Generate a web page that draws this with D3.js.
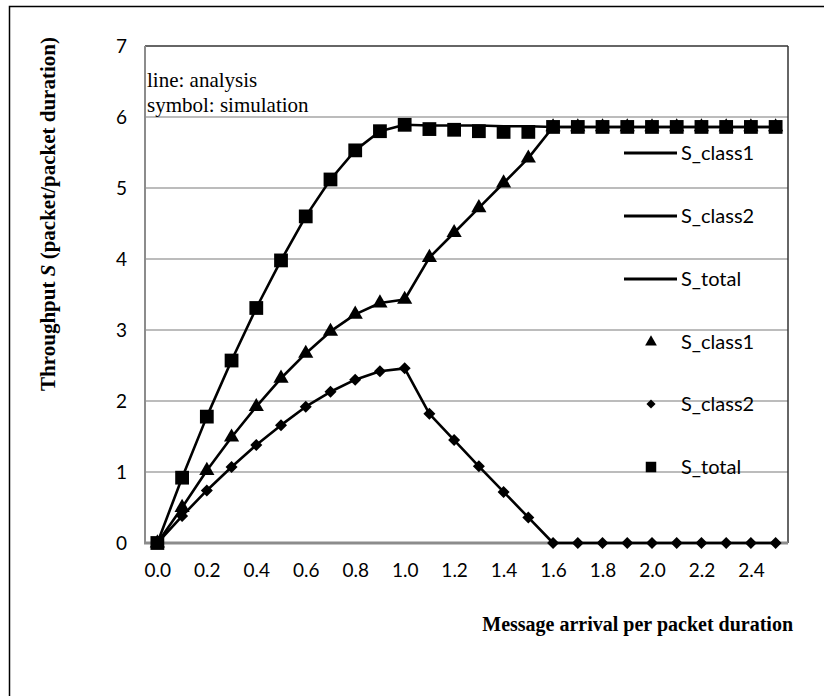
<!DOCTYPE html>
<html>
<head>
<meta charset="utf-8">
<script src="https://cdn.jsdelivr.net/npm/d3@7"></script>
<style>
body { margin: 0; background: #fff; }
</style>
</head>
<body>
<svg id="chart" width="824" height="696"></svg>
<script>
// chart data
var xCats = ["0.0","0.1","0.2","0.3","0.4","0.5","0.6","0.7","0.8","0.9","1.0","1.1","1.2","1.3","1.4","1.5","1.6","1.7","1.8","1.9","2.0","2.1","2.2","2.3","2.4","2.5"];
var xTickLabels = ["0.0","0.2","0.4","0.6","0.8","1.0","1.2","1.4","1.6","1.8","2.0","2.2","2.4"];
var yTicks = [0, 1, 2, 3, 4, 5, 6, 7];

// analysis (lines)
var anaClass1 = [0, 0.50, 1.02, 1.49, 1.92, 2.32, 2.67, 2.98, 3.22, 3.38, 3.43, 4.02, 4.37, 4.72, 5.07, 5.42, 5.86, 5.86, 5.86, 5.86, 5.86, 5.86, 5.86, 5.86, 5.86, 5.86];
var anaClass2 = [0, 0.38, 0.74, 1.07, 1.38, 1.66, 1.92, 2.13, 2.30, 2.42, 2.46, 1.82, 1.45, 1.08, 0.72, 0.36, 0, 0, 0, 0, 0, 0, 0, 0, 0, 0];
var anaTotal  = [0, 0.92, 1.78, 2.57, 3.31, 3.98, 4.60, 5.12, 5.53, 5.80, 5.89, 5.88, 5.88, 5.88, 5.87, 5.87, 5.86, 5.86, 5.86, 5.86, 5.86, 5.86, 5.86, 5.86, 5.86, 5.86];

// simulation (symbols)
var simClass1 = [0, 0.50, 1.02, 1.49, 1.92, 2.32, 2.67, 2.98, 3.22, 3.38, 3.43, 4.02, 4.37, 4.72, 5.07, 5.42, 5.86, 5.86, 5.86, 5.86, 5.86, 5.86, 5.86, 5.86, 5.86, 5.86];
var simClass2 = [0, 0.38, 0.74, 1.07, 1.38, 1.66, 1.92, 2.13, 2.30, 2.42, 2.46, 1.82, 1.45, 1.08, 0.72, 0.36, 0, 0, 0, 0, 0, 0, 0, 0, 0, 0];
var simTotal  = [0, 0.92, 1.78, 2.57, 3.31, 3.98, 4.60, 5.12, 5.53, 5.80, 5.89, 5.83, 5.82, 5.80, 5.79, 5.79, 5.86, 5.86, 5.86, 5.86, 5.86, 5.86, 5.86, 5.86, 5.86, 5.86];

var legendNames = ["S_class1", "S_class2", "S_total", "S_class1", "S_class2", "S_total"];

var svg = d3.select("#chart");
var plotLeft = 145, plotRight = 788, plotTop = 46, plotBottom = 543;
var tickFont = "Lato, 'Open Sans', sans-serif";
var serif = "'Liberation Serif', 'Times New Roman', serif";

// outer frame (runs off the picture)
svg.append("rect")
    .attr("x", 9.5).attr("y", 6.5)
    .attr("width", 900).attr("height", 900)
    .attr("fill", "none").attr("stroke", "#000").attr("stroke-width", 1.5);

var x = d3.scalePoint().domain(xCats).range([plotLeft, plotRight]).padding(0.5);
var y = d3.scaleLinear().domain([0, 7]).range([plotBottom, plotTop]);

// grid lines
svg.append("g").selectAll("line")
    .data(yTicks.filter(function (d) { return d > 0 && d < 7; }))
    .enter().append("line")
    .attr("x1", plotLeft).attr("x2", plotRight)
    .attr("y1", function (d) { return y(d); })
    .attr("y2", function (d) { return y(d); })
    .attr("stroke", "#a6a6a6").attr("stroke-width", 1.5);

// plot frame
svg.append("line").attr("x1", plotLeft).attr("x2", plotRight).attr("y1", plotTop).attr("y2", plotTop)
    .attr("stroke", "#333").attr("stroke-width", 1.5);
svg.append("line").attr("x1", plotRight).attr("x2", plotRight).attr("y1", plotTop).attr("y2", plotBottom)
    .attr("stroke", "#333").attr("stroke-width", 1.5);
svg.append("line").attr("x1", plotLeft).attr("x2", plotLeft).attr("y1", plotTop).attr("y2", plotBottom)
    .attr("stroke", "#8c8c8c").attr("stroke-width", 2);
svg.append("line").attr("x1", plotLeft - 1).attr("x2", plotRight).attr("y1", plotBottom).attr("y2", plotBottom)
    .attr("stroke", "#8c8c8c").attr("stroke-width", 3);

// y axis
var yAxis = d3.axisLeft(y).tickValues(yTicks).tickSize(0).tickPadding(18).tickFormat(d3.format("d"));
var gy = svg.append("g").attr("transform", "translate(" + plotLeft + ",0)").call(yAxis);
gy.select(".domain").remove();
gy.selectAll("text").attr("font-family", tickFont).attr("font-size", 19).attr("fill", "#000");

// x axis
var xAxis = d3.axisBottom(x).tickValues(xTickLabels).tickSize(0).tickPadding(21);
var gx = svg.append("g").attr("transform", "translate(0," + plotBottom + ")").call(xAxis);
gx.select(".domain").remove();
gx.selectAll("text").attr("font-family", tickFont).attr("font-size", 19).attr("fill", "#000");

// analysis lines
var line = d3.line()
    .x(function (d, i) { return x(xCats[i]); })
    .y(function (d) { return y(d); });

[anaClass1, anaClass2, anaTotal].forEach(function (s) {
    svg.append("path").datum(s)
        .attr("d", line)
        .attr("fill", "none").attr("stroke", "#000").attr("stroke-width", 2.6)
        .attr("stroke-linejoin", "round");
});

// simulation symbols (diamond = square turned 45deg)
var symTri = d3.symbol().type(d3.symbolTriangle).size(100);
var symDia = d3.symbol().type(d3.symbolSquare).size(72);
var symSq  = d3.symbol().type(d3.symbolSquare).size(190);

function drawSymbols(s, gen, rot) {
    svg.append("g").selectAll("path")
        .data(s).enter().append("path")
        .attr("d", gen)
        .attr("transform", function (d, i) {
            return "translate(" + x(xCats[i]) + "," + y(d) + ") rotate(" + rot + ")";
        })
        .attr("fill", "#000");
}
drawSymbols(simClass1, symTri, 0);
drawSymbols(simClass2, symDia, 45);
drawSymbols(simTotal, symSq, 0);

// legend
var legY = [153, 216, 279, 342, 404, 467];
var legSyms = [
    [d3.symbol().type(d3.symbolTriangle).size(60), 0],
    [d3.symbol().type(d3.symbolSquare).size(42), 45],
    [d3.symbol().type(d3.symbolSquare).size(110), 0]
];
var leg = svg.append("g");
legendNames.forEach(function (name, i) {
    if (i < 3) {
        leg.append("line").attr("x1", 624).attr("x2", 677)
            .attr("y1", legY[i]).attr("y2", legY[i])
            .attr("stroke", "#000").attr("stroke-width", 3);
    } else {
        var s = legSyms[i - 3];
        leg.append("path").attr("d", s[0])
            .attr("transform", "translate(651," + legY[i] + ") rotate(" + s[1] + ")")
            .attr("fill", "#000");
    }
    leg.append("text").attr("x", 681).attr("y", legY[i] + 7)
        .attr("font-family", tickFont).attr("font-size", 20)
        .text(name);
});

// annotation
svg.append("text").attr("x", 147).attr("y", 87)
    .attr("font-family", serif).attr("font-size", 21)
    .text("line: analysis");
svg.append("text").attr("x", 147).attr("y", 112)
    .attr("font-family", serif).attr("font-size", 21)
    .text("symbol: simulation");

// axis titles
svg.append("text")
    .attr("transform", "translate(55,214) rotate(-90)")
    .attr("text-anchor", "middle")
    .attr("font-family", serif)
    .attr("font-size", 21).attr("font-weight", "bold")
    .call(function (t) {
        t.append("tspan").text("Throughput ");
        t.append("tspan").attr("font-style", "italic").text("S");
        t.append("tspan").text(" (packet/packet duration)");
    });

svg.append("text")
    .attr("x", 793).attr("y", 631)
    .attr("text-anchor", "end")
    .attr("font-family", serif)
    .attr("font-size", 20).attr("font-weight", "bold")
    .text("Message arrival per packet duration");
</script>
</body>
</html>
